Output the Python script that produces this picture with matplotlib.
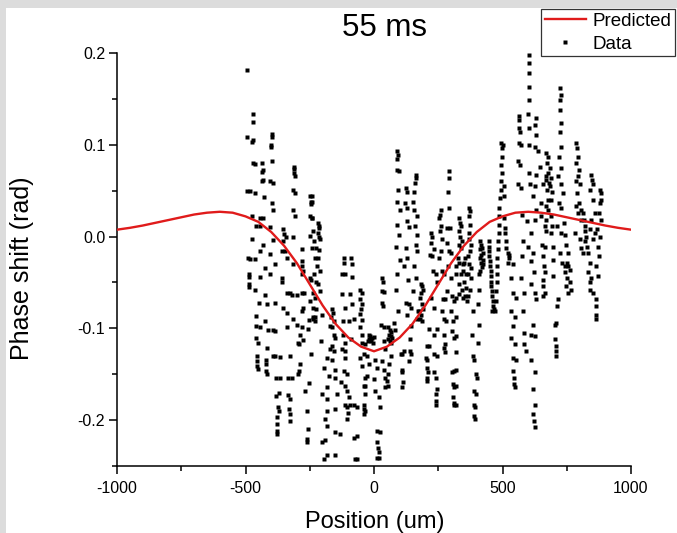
import numpy as np
import matplotlib
matplotlib.use("Agg")
import matplotlib.pyplot as plt
from matplotlib.patches import Rectangle
from matplotlib.ticker import MultipleLocator

plt.rcParams['font.family'] = ['Liberation Sans', 'DejaVu Sans']
plt.rcParams['axes.unicode_minus'] = False

# Predicted phase shift (rad) vs position (um)
pred_x = [-1000, -950, -900, -850, -800, -750, -700, -650, -600, -550, -500,
          -450, -400, -350, -300, -250, -200, -150, -100, -50, 0,
          50, 100, 150, 200, 250, 300, 350, 400, 450, 500,
          550, 600, 650, 700, 750, 800, 850, 900, 950, 1000]
pred_y = [0.0075, 0.0095, 0.012, 0.015, 0.018, 0.021, 0.024, 0.026, 0.027, 0.026, 0.022,
          0.016, 0.005, -0.010, -0.029, -0.052, -0.075, -0.095, -0.110, -0.120, -0.125,
          -0.120, -0.110, -0.095, -0.075, -0.052, -0.029, -0.010, 0.005, 0.016, 0.022,
          0.026, 0.027, 0.026, 0.024, 0.021, 0.018, 0.015, 0.012, 0.0095, 0.0075]

data_left = [
    (-496, 182), (-470, 134), (-472, 125), (-493, 109), (-472, 105), (-476, 103),
    (-398, 112), (-398, 108), (-402, 100), (-401, 98), (-398, 82),
    (-472, 80), (-463, 79), (-437, 80), (-433, 73), (-437, 70),
    (-311, 76), (-311, 74), (-311, 69), (-307, 66),
    (-493, 50), (-483, 50), (-463, 47), (-437, 61), (-431, 62), (-405, 60), (-392, 58),
    (-314, 51), (-307, 48), (-428, 43), (-398, 37),
    (-249, 44), (-246, 38), (-245, 35),
    (-392, 29), (-314, 29), (-307, 22), (-476, 22), (-444, 20), (-431, 20),
    (-459, 11), (-444, 11), (-405, 10), (-353, 8), (-349, 3), (-342, -1), (-249, 22), (-243, 20),
    (-476, -3), (-392, -4), (-353, -5), (-316, 0), (-249, 1),
    (-431, -9), (-281, -14), (-240, -12), (-444, -16), (-405, -19), (-359, -16), (-346, -16), (-340, -23),
    (-489, -23), (-483, -24), (-463, -24), (-424, -34), (-385, -30), (-314, -30), (-281, -27),
    (-279, -32), (-275, -38), (-281, -41),
    (-485, -41), (-485, -44), (-444, -44), (-405, -41), (-359, -45), (-249, -45), (-246, -47),
    (-485, -52), (-485, -55), (-463, -58), (-359, -49), (-327, -61), (-340, -62), (-320, -64),
    (-301, -64), (-281, -62), (-272, -61), (-236, -61),
    (-424, -64), (-446, -72), (-385, -72), (-418, -73), (-249, -70), (-353, -78), (-340, -83),
    (-281, -81), (-275, -78),
    (-459, -87), (-424, -92), (-314, -90), (-301, -96), (-252, -91), (-236, -88), (-459, -98),
    (-444, -99), (-411, -102), (-392, -102), (-385, -103), (-340, -99), (-281, -99), (-256, -101), (-288, -107),
    (-459, -110), (-453, -116), (-418, -121), (-392, -130), (-385, -130), (-366, -131), (-327, -130),
    (-290, -117), (-275, -113), (-294, -116), (-246, -128),
    (-454, -130), (-454, -136), (-454, -141), (-453, -144), (-420, -134), (-420, -139), (-420, -146), (-418, -150),
    (-366, -154), (-381, -154), (-333, -154), (-320, -154), (-290, -146), (-294, -150), (-288, -139),
    (-268, -168), (-253, -160),
    (-368, -171), (-381, -174), (-333, -173), (-327, -177), (-372, -186), (-368, -190), (-329, -188),
    (-327, -193), (-327, -201),
    (-376, -197), (-379, -204), (-376, -212), (-376, -215), (-262, -190), (-256, -210), (-262, -221), (-262, -224),
]

data_centre_left = [
    (-241, 44), (-241, 38), (-241, 20), (-239, 6), (-218, 15), (-215, 11), (-213, 9), (-218, 4), (-213, 0),
    (-209, -3), (-235, -5), (-226, -13), (-213, -15), (-231, -23), (-218, -23), (-222, -32), (-209, -38),
    (-235, -41), (-226, -50), (-218, -52), (-209, -59), (-228, -67), (-239, -78), (-226, -79), (-202, -86),
    (-228, -88), (-239, -90), (-228, -92),
    (-205, -114), (-183, -132), (-163, -134), (-196, -143), (-176, -152), (-150, -145), (-202, -172),
    (-183, -164), (-150, -154), (-183, -177), (-144, -172), (-183, -190), (-150, -188), (-189, -199),
    (-183, -206), (-150, -213), (-131, -215), (-189, -222), (-202, -224), (-183, -238), (-196, -242), (-150, -238),
    (-163, -79), (-161, -83), (-166, -88), (-157, -92), (-170, -97), (-163, -99), (-157, -107), (-153, -110),
    (-163, -119), (-170, -123), (-157, -125),
    (-118, -23), (-118, -29), (-88, -23), (-86, -30), (-125, -41), (-114, -41), (-86, -44), (-92, -63),
    (-125, -63), (-114, -78), (-86, -74), (-122, -92), (-96, -92), (-79, -90), (-122, -107), (-112, -116),
    (-125, -123), (-114, -125), (-88, -112),
    (-112, -132), (-118, -146), (-105, -150), (-127, -159), (-112, -163), (-105, -168), (-99, -175),
    (-112, -183), (-105, -186), (-92, -183), (-101, -192), (-105, -199), (-79, -184), (-66, -186),
    (-79, -219), (-66, -217), (-73, -242), (-66, -242),
    (-53, -58), (-47, -62), (-53, -68), (-47, -74), (-49, -79), (-53, -84), (-47, -91), (-53, -99),
    (-47, -107), (-47, -116), (-34, -117), (-40, -128), (-53, -132), (-47, -141), (-36, -154), (-40, -163),
    (-34, -163), (-36, -172), (-40, -183), (-40, -188), (-34, -190), (-40, -193),
    (-21, -107), (-14, -108), (-8, -110), (-18, -112), (-10, -114), (-1, -109), (-23, -114), (-5, -116),
    (-27, -130), (-21, -139), (5, -134), (-27, -152), (-1, -155), (12, -143), (5, -168), (18, -175),
    (25, -186), (12, -212), (25, -213), (12, -224), (16, -230), (18, -235), (18, -241), (12, -241),
    (31, -45), (34, -50), (31, -59), (38, -60), (31, -72), (34, -76), (29, -96), (38, -99), (38, -114),
    (44, -123), (31, -136), (38, -145), (44, -154), (44, -164),
]

data_centre_right = [
    (54, -99), (62, -102), (67, -104), (58, -107), (65, -108), (71, -110), (54, -112), (62, -114), (67, -116),
    (58, -139), (54, -150), (49, -157), (54, -163), (65, -130),
    (91, 93), (93, 89), (88, 84), (88, 73), (97, 71), (93, 51), (88, 38), (101, 29), (91, 13), (97, 2),
    (84, -11), (101, -25), (91, -41), (84, -58), (93, -81), (78, -94), (80, -102),
    (110, -145), (110, -148), (114, -159), (110, -164), (110, -128), (117, -125), (104, -128),
    (123, 53), (127, 49), (119, 37), (130, 31), (127, 17), (136, 10), (123, -12), (127, -23), (117, -32),
    (132, -47), (123, -72), (136, -74), (143, -78), (130, -85), (143, -97), (140, -112), (140, -125),
    (143, -128), (136, -136),
    (162, 67), (162, 64), (158, 58), (156, 49), (153, 38), (156, 29), (166, 22), (158, 11), (169, 2),
    (162, -9), (169, -16), (156, -32), (162, -45), (153, -59), (171, -81), (166, -90),
    (182, -52), (188, -54), (192, -58), (184, -61), (179, -67), (188, -74), (192, -79), (175, -81),
    (184, -85), (179, -90), (188, -92),
    (205, -119), (214, -119), (201, -132), (208, -134), (205, -143), (210, -148), (205, -154), (208, -157),
    (220, 4), (227, 0), (223, -7), (233, -14), (218, -20), (227, -21), (231, -38), (240, -41), (246, -49),
    (220, -67), (233, -78), (214, -101), (233, -107), (246, -101), (233, -128), (244, -130), (233, -148),
    (240, -154), (244, -166), (240, -172), (240, -179), (240, -184),
    (259, 29), (257, 24), (253, 20), (262, 11), (257, 6), (266, -3), (259, -16), (253, -23), (266, -38),
    (272, -41), (270, -68), (276, -68), (266, -81), (272, -90), (279, -92), (272, -107), (275, -117),
    (272, -121), (275, -126),
    (292, 71), (292, 64), (288, 49), (292, 31), (285, 9), (296, 9), (285, -7), (292, -16), (298, -18),
    (288, -32), (301, -45), (285, -59), (305, -65), (311, -70), (298, -81), (309, -92), (305, -103),
    (311, -110), (318, -126), (311, -146), (305, -148), (309, -161), (311, -164), (309, -175), (311, -181),
    (311, -184),
]

data_right = [
    (319, -32), (319, -41), (319, -67), (319, -88), (319, -108), (319, -145), (319, -163), (319, -183),
    (332, 20), (335, 15), (339, 11), (332, 6), (335, 0), (342, -5), (332, -9), (339, -12), (326, -23),
    (332, -29), (345, -30), (339, -41), (332, -52), (342, -58), (330, -63), (348, -67),
    (355, -23), (351, -29), (348, -38), (358, -41), (351, -49), (358, -56), (355, -65), (360, -70),
    (371, 31), (374, 28), (368, 22), (374, 13), (371, 4), (368, -3), (377, -9), (374, -16), (364, -21),
    (371, -30), (377, -34), (364, -41), (377, -45), (374, -58), (364, -65),
    (384, -81), (403, -74), (381, -107), (407, -96), (403, -116), (384, -130), (390, -134), (397, -150),
    (400, -154), (390, -168), (397, -172), (390, -184), (394, -186), (390, -195), (394, -199),
    (412, -5), (416, -9), (420, -12), (412, -14), (423, -18), (417, -20), (412, -23), (423, -26),
    (416, -29), (425, -30), (420, -33), (412, -38), (407, -41), (410, -58),
    (446, -5), (446, -11), (449, -16), (449, -21), (451, -27), (451, -32), (454, -38), (454, -43),
    (457, -49), (457, -54), (459, -59), (459, -65), (462, -70), (462, -76), (465, -79), (459, -81),
    (472, -81), (475, -70), (475, -59), (477, -50), (477, -41), (480, -32), (480, -23), (483, -14),
    (483, -5), (485, 4), (485, 13), (488, 22), (488, 31), (490, 42), (493, 51), (495, 60), (498, 69),
    (495, 78), (498, 87), (498, 96), (501, 100), (494, 102),
    (507, 20), (511, 9), (511, 4), (514, -5), (514, -12), (520, -18), (524, -20), (527, -23), (520, -29),
    (507, 55), (507, 44),
    (540, -30), (533, -45), (540, -61), (553, -67), (533, -81), (550, -88), (542, -97), (533, -110),
    (550, -117), (540, -132), (553, -134), (542, -146), (546, -154), (546, -161), (550, -164),
    (563, 131), (565, 127), (563, 118), (568, 114), (565, 102), (572, 100), (559, 82), (568, 78),
    (559, 57), (572, 53), (576, 24),
    (578, -5), (576, -21), (572, -45), (585, -61), (578, -81), (585, -105), (585, -117), (591, -125),
    (602, 198), (604, 189), (602, 178), (602, 163), (604, 149), (598, 133), (602, 118), (602, 100),
    (604, 69), (607, 57), (594, 17), (598, -11),
]

data_far_right = [
    (632, 129), (628, 122), (632, 111), (625, 98), (638, 93), (645, 76), (632, 67), (625, 55), (619, 44),
    (632, 29), (625, 18), (612, 4), (619, -18), (612, -27), (623, -39), (612, -52), (625, -61), (632, -68),
    (619, -96), (612, -107), (625, -108), (612, -134), (625, -148), (619, -166), (625, -184), (619, -193),
    (623, -201), (625, -208),
    (671, 66), (677, 69), (658, 57), (651, 37), (651, 22), (671, 18), (671, 6), (654, -9), (664, -11),
    (658, -21), (661, -32), (664, -39), (658, -47), (658, -54), (664, -61), (658, -65),
    (671, 91), (677, 87), (674, 80), (671, 62), (680, 58), (674, 51), (677, 40), (671, 33), (677, 29), (664, 11),
    (684, 75), (690, 64), (684, 55), (693, 49), (690, 40), (688, 22), (693, 11), (690, 4), (697, -11),
    (697, -25), (697, -43),
    (716, -68), (712, -76), (709, -94), (703, -96), (703, -112), (709, -119), (709, -125), (709, -130),
    (722, 162), (726, 154), (723, 149), (722, 138), (726, 124), (722, 114), (729, 98), (718, 87), (729, 75),
    (716, 66), (726, 57), (735, 47), (718, 37), (729, 31), (712, 11), (729, 4), (722, -18), (732, -29),
    (739, 15), (742, 2), (748, -9), (755, -18), (742, -32), (744, -39), (752, -29), (755, -32), (761, -36),
    (752, -45), (761, -49), (748, -54), (768, -58), (755, -61),
    (787, 102), (791, 96), (794, 87), (787, 80), (796, 73), (794, 66), (787, 60), (800, 57), (791, 47),
    (796, 37), (787, 33), (794, 26), (807, 18), (813, 26), (781, 4), (800, -3), (807, -12),
    (807, 29), (817, 18), (820, 11), (822, 6), (826, 0), (820, -5), (830, -11), (813, -18),
    (846, 67), (848, 62), (852, 57), (839, 51), (852, 40), (859, 26), (846, 18), (839, 8), (859, 4),
    (852, -3), (833, -18), (839, -29), (833, -39), (846, -45), (839, -50), (839, -58), (852, -61),
    (865, -68), (865, -76), (865, -85), (865, -90),
    (878, 51), (882, 47), (885, 40), (878, 37), (874, 26), (882, 18), (869, 8), (878, -1), (872, -11),
    (874, -21), (865, -32), (872, -43),
]

pts = np.array(data_left + data_centre_left + data_centre_right + data_right + data_far_right, dtype=float)
data_x = pts[:, 0]
data_y = pts[:, 1] / 1000.0  # mrad -> rad

W, H = 677, 533
fig = plt.figure(figsize=(W / 100, H / 100), dpi=100, facecolor='#dcdcdc')
fig.patches.append(Rectangle((6 / W, 0), 1, 1 - 8 / H, transform=fig.transFigure,
                             facecolor='white', edgecolor='none', zorder=-10))

ax = fig.add_axes([117 / W, 1 - 466 / H, (631 - 117) / W, (466 - 53) / H])
ax.set_facecolor('none')

ax.plot(pred_x, pred_y, color='#e01b1b', lw=1.7, label='Predicted', zorder=3)
ax.plot(data_x, data_y, linestyle='none', marker='s', ms=2.5, mec='none', mfc='black',
        label='Data', zorder=2, clip_on=False)

ax.set_xlim(-1000, 1000)
ax.set_ylim(-0.25, 0.2)
ax.xaxis.set_major_locator(MultipleLocator(500))
ax.xaxis.set_minor_locator(MultipleLocator(250))
ax.yaxis.set_major_locator(MultipleLocator(0.1))
ax.yaxis.set_minor_locator(MultipleLocator(0.05))
ax.yaxis.set_major_formatter(matplotlib.ticker.FormatStrFormatter('%.1f'))

for side in ['top', 'right']:
    ax.spines[side].set_visible(False)
for side in ['left', 'bottom']:
    ax.spines[side].set_linewidth(1.1)
ax.tick_params(which='major', direction='out', length=5.5, width=1.1, labelsize=11.5)
ax.tick_params(which='minor', direction='out', length=3.5, width=1.1)
ax.tick_params(axis='x', which='major', pad=5)
ax.tick_params(axis='y', which='major', pad=3)

fig.text(384 / W, 1 - 28 / H, '55 ms', ha='center', va='center', fontsize=22.5)
fig.text(375 / W, 1 - 522 / H, 'Position (um)', ha='center', va='center', fontsize=17)
fig.text(22 / W, 1 - 268 / H, 'Phase shift (rad)', ha='center', va='center', rotation=90, fontsize=18)

leg = ax.legend(loc='upper left', bbox_to_anchor=(541 / W, 1 - 9 / H), bbox_transform=fig.transFigure,
                borderaxespad=0, fancybox=False, edgecolor='#333333', framealpha=1, fontsize=13.5,
                handlelength=2.2, handletextpad=0.35, borderpad=0.2, labelspacing=0.3, markerscale=1.0)
leg.get_frame().set_linewidth(0.9)

fig.savefig('out.png', dpi=100, facecolor=fig.get_facecolor())
